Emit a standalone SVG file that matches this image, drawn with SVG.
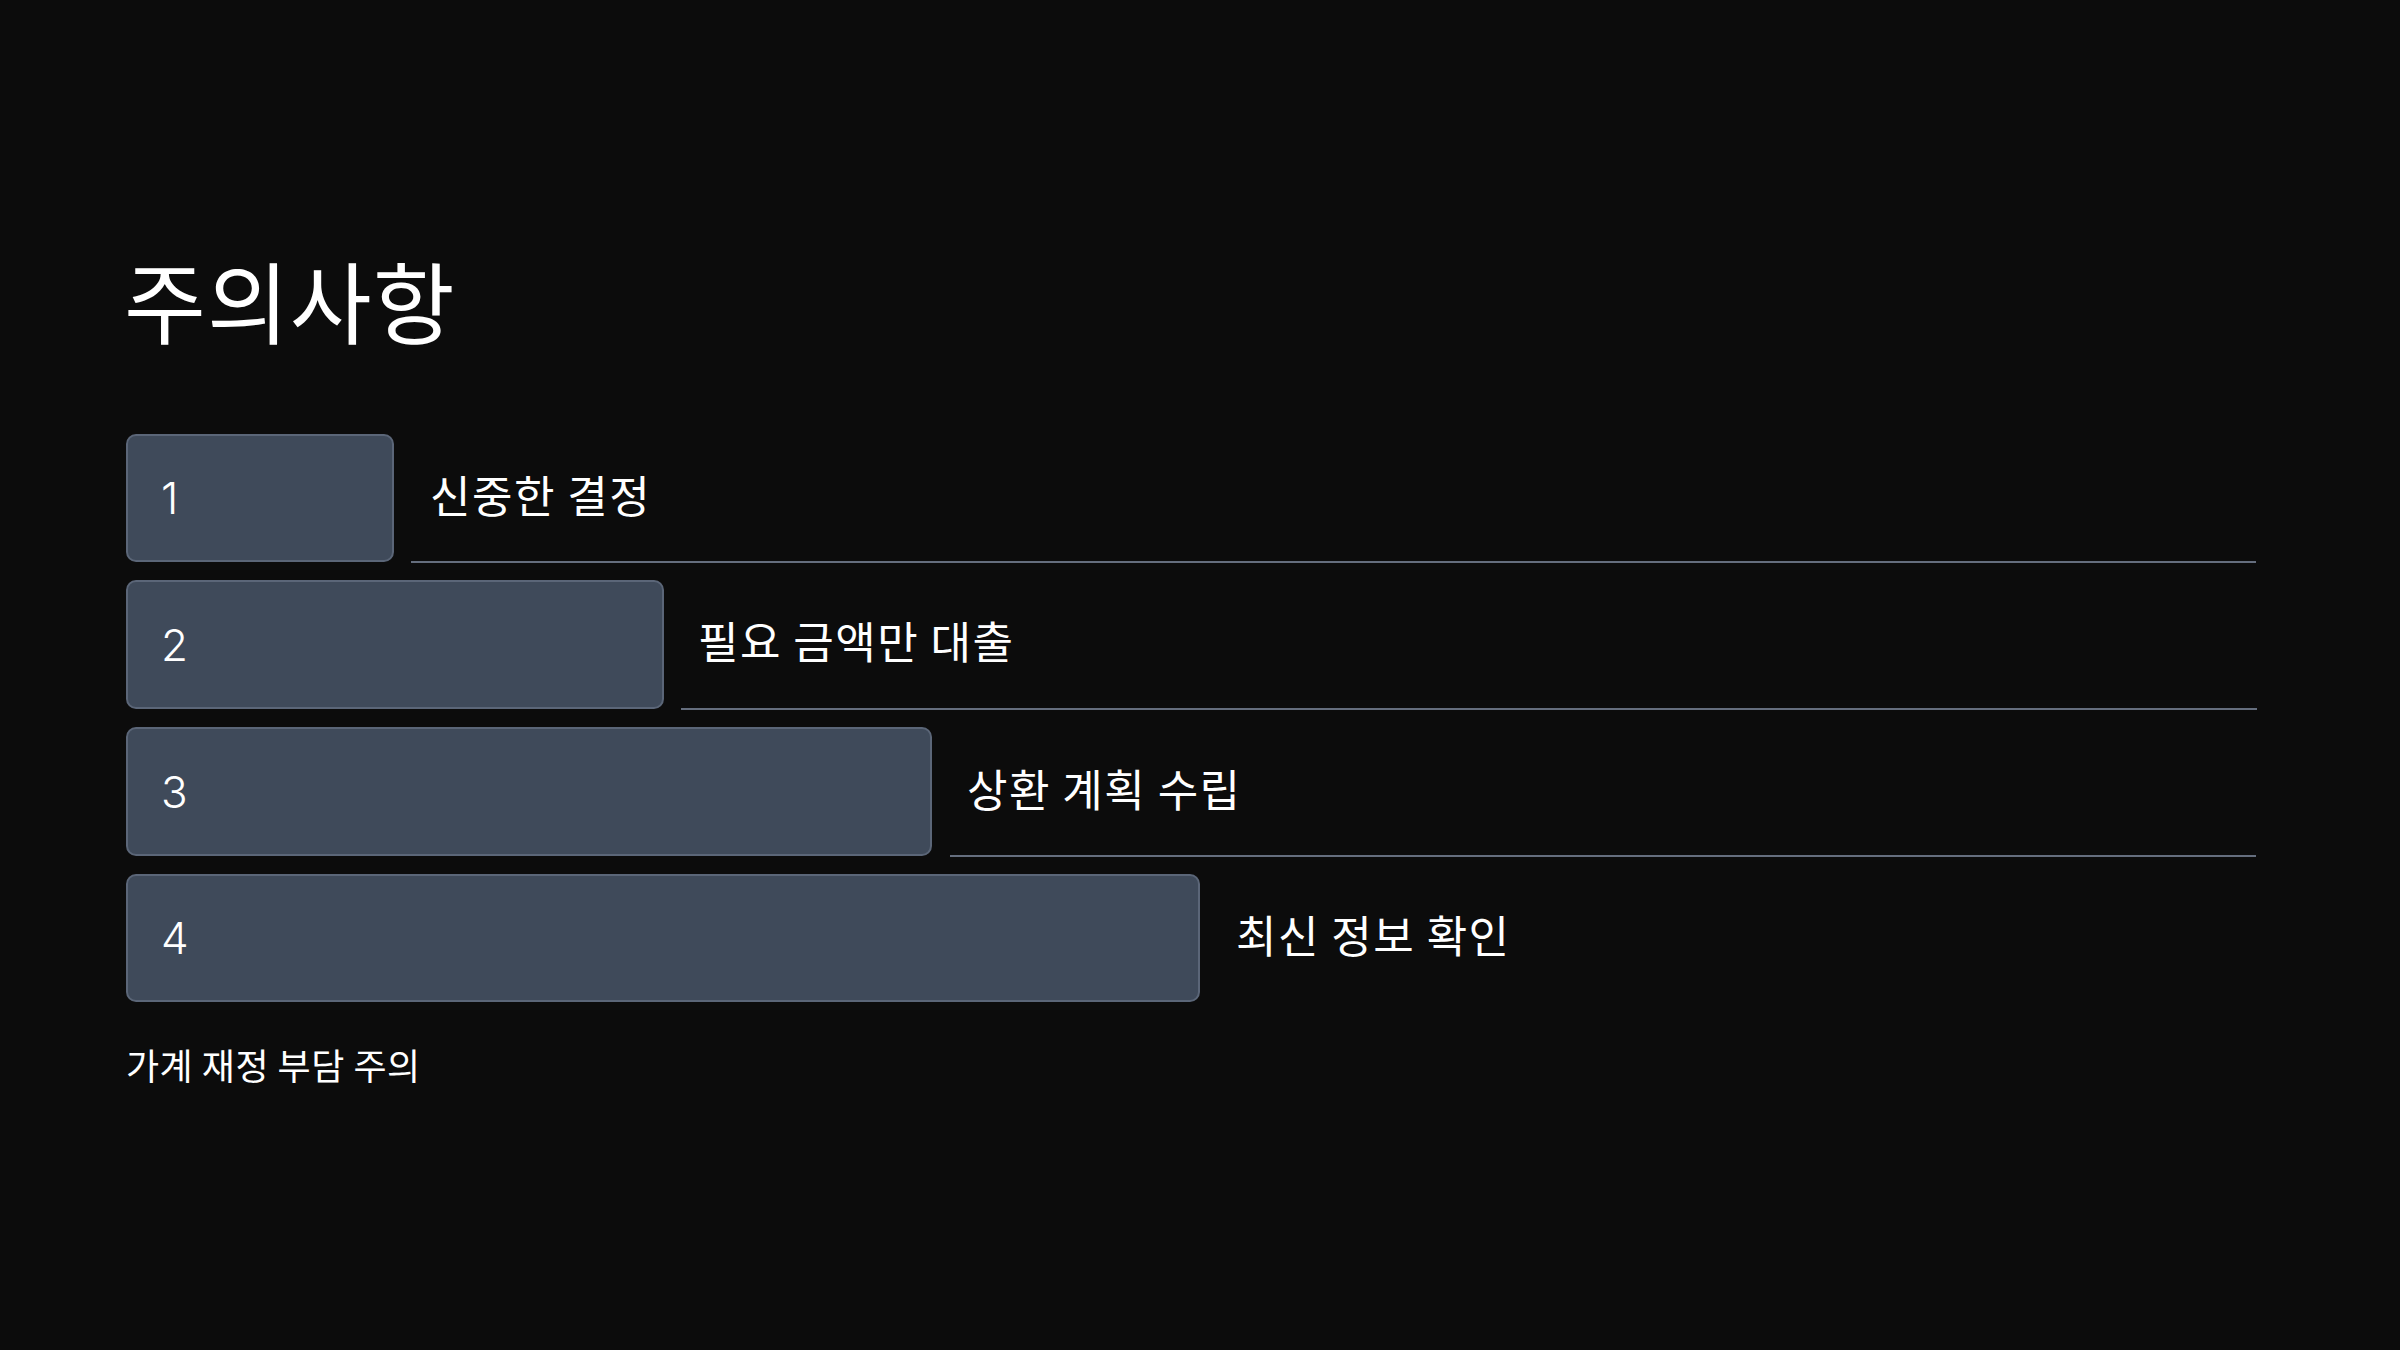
<svg xmlns="http://www.w3.org/2000/svg" width="2400" height="1350" viewBox="0 0 2400 1350">
<style>
.bg{fill:#0c0c0c}
.box{fill:#3f4a5a;stroke:#5b6678;stroke-width:2}
.num{font-family:"Inter","Noto Sans",sans-serif;font-weight:300;font-size:44px;fill:#ffffff}
.lbl{font-family:"Noto Sans CJK KR","Noto Sans",sans-serif;font-size:44px;letter-spacing:1.5px;fill:#ffffff}
.title{font-family:"Noto Sans CJK KR","Noto Sans",sans-serif;font-size:89px;letter-spacing:1px;fill:#ffffff}
.foot{font-family:"Noto Sans CJK KR","Noto Sans",sans-serif;font-size:36px;letter-spacing:0.5px;fill:#ffffff}
.rule{stroke:#656e7e;stroke-width:2;fill:none}
</style>
<rect class="bg" x="0" y="0" width="2400" height="1350"/>
<text class="title" x="124" y="337">주의사항</text>
<g id="connectors">
<line class="rule" x1="411" y1="562" x2="2256" y2="562"/>
<line class="rule" x1="681" y1="709" x2="2257" y2="709"/>
<line class="rule" x1="950" y1="856" x2="2256" y2="856"/>
</g>
<g id="node1">
<rect class="box" x="127" y="435" width="266" height="126" rx="9"/>
<text class="num" x="161" y="514">1</text>
<text class="lbl" x="430" y="513">신중한 결정</text>
</g>
<g id="node2">
<rect class="box" x="127" y="581" width="536" height="127" rx="9"/>
<text class="num" x="161" y="661">2</text>
<text class="lbl" x="698" y="659">필요 금액만 대출</text>
</g>
<g id="node3">
<rect class="box" x="127" y="728" width="804" height="127" rx="9"/>
<text class="num" x="161" y="808">3</text>
<text class="lbl" x="967" y="807">상환 계획 수립</text>
</g>
<g id="node4">
<rect class="box" x="127" y="875" width="1072" height="126" rx="9"/>
<text class="num" x="161" y="954">4</text>
<text class="lbl" x="1236" y="953">최신 정보 확인</text>
</g>
<text class="foot" x="126" y="1080">가계 재정 부담 주의</text>
</svg>
